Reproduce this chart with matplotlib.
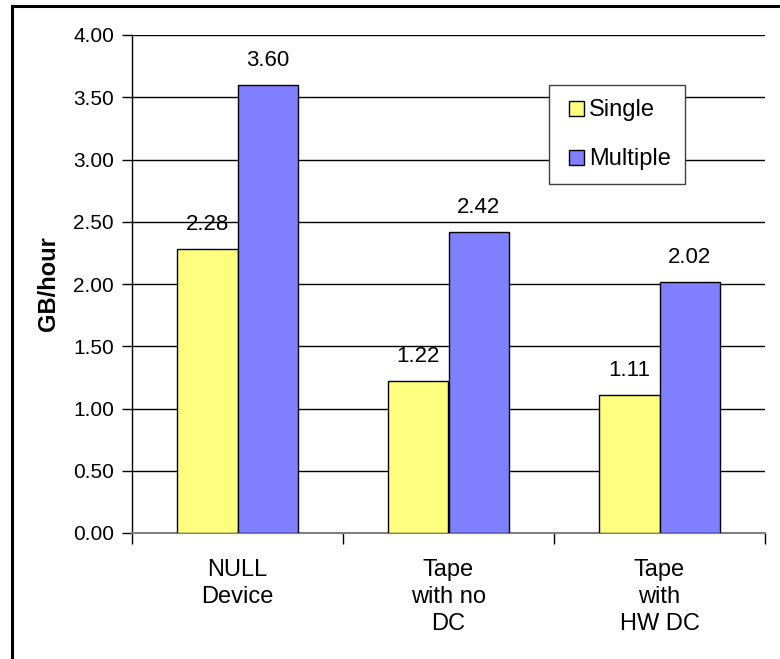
import numpy as np
import matplotlib
matplotlib.use("Agg")
import matplotlib.pyplot as plt
from matplotlib.lines import Line2D

plt.rcParams['font.family'] = ['Liberation Sans', 'DejaVu Sans']

# Throughput per device type
categories = ["NULL\nDevice", "Tape\nwith no\nDC", "Tape\nwith\nHW DC"]
single = [2.28, 1.22, 1.11]
multiple = [3.60, 2.42, 2.02]
series_names = ["Single", "Multiple"]
yticks = [0.0, 0.5, 1.0, 1.5, 2.0, 2.5, 3.0, 3.5, 4.0]

colors = ["#FFFF80", "#8080FF"]

fig = plt.figure(figsize=(7.8, 6.59), dpi=100)
ax = fig.add_axes([132 / 780, 1 - 533 / 659, (765 - 132) / 780, (533 - 35) / 659])

x = np.arange(len(categories))
w = 0.287
b1 = ax.bar(x - w / 2, single, w, color=colors[0], edgecolor="black", linewidth=1, zorder=3)
b2 = ax.bar(x + w / 2, multiple, w, color=colors[1], edgecolor="black", linewidth=1, zorder=3)
ax.bar_label(b1, fmt="%.2f", padding=10, fontsize=16)
ax.bar_label(b2, fmt="%.2f", padding=10, fontsize=16)

ax.set_xlim(-0.5, len(categories) - 0.5)
ax.set_ylim(0, 4)
ax.set_yticks(yticks)
ax.set_yticklabels([f"{v:.2f}" for v in yticks], fontsize=15)
ax.tick_params(axis="y", length=7, width=1, pad=6, direction="out")

# category labels on major ticks, boundary marks on minor ticks
ax.set_xticks(x)
ax.set_xticklabels(categories, fontsize=17, linespacing=1.3)
ax.tick_params(axis="x", which="major", length=0, pad=18.5)
ax.set_xticks(np.arange(-0.5, len(categories)), minor=True)
ax.tick_params(axis="x", which="minor", length=8, width=1, color="black")

ax.yaxis.grid(True, color="black", linewidth=1, zorder=0)
ax.set_axisbelow(True)
ax.spines["top"].set_visible(False)
ax.spines["right"].set_visible(False)
ax.spines["bottom"].set_color("#808080")
ax.spines["bottom"].set_linewidth(1.5)
ax.spines["left"].set_linewidth(1)

ax.set_ylabel("GB/hour", fontsize=17, fontweight="bold", labelpad=9)

handles = [Line2D([], [], linestyle="none", marker="s", markersize=10.8,
                  markerfacecolor=c, markeredgecolor="black", markeredgewidth=1)
           for c in colors]
leg = ax.legend(handles, series_names, loc="upper left",
                bbox_to_anchor=(549 / 780, 1 - 85 / 659), bbox_transform=fig.transFigure,
                borderaxespad=0, fontsize=17, fancybox=False, framealpha=1,
                edgecolor="#404040", handlelength=1.05, handleheight=0.65,
                handletextpad=0.05, labelspacing=1.15, borderpad=0.6)
leg.get_frame().set_linewidth(1)
leg.set_zorder(5)

# chart border (left and top edges)
fig.add_artist(Line2D([11.5 / 780, 11.5 / 780], [0, 1 - 6 / 659], color="black",
                      linewidth=2.2, transform=fig.transFigure))
fig.add_artist(Line2D([11.5 / 780, 1], [1 - 6 / 659, 1 - 6 / 659], color="black",
                      linewidth=2.2, transform=fig.transFigure))

fig.savefig("out.png", dpi=100)
